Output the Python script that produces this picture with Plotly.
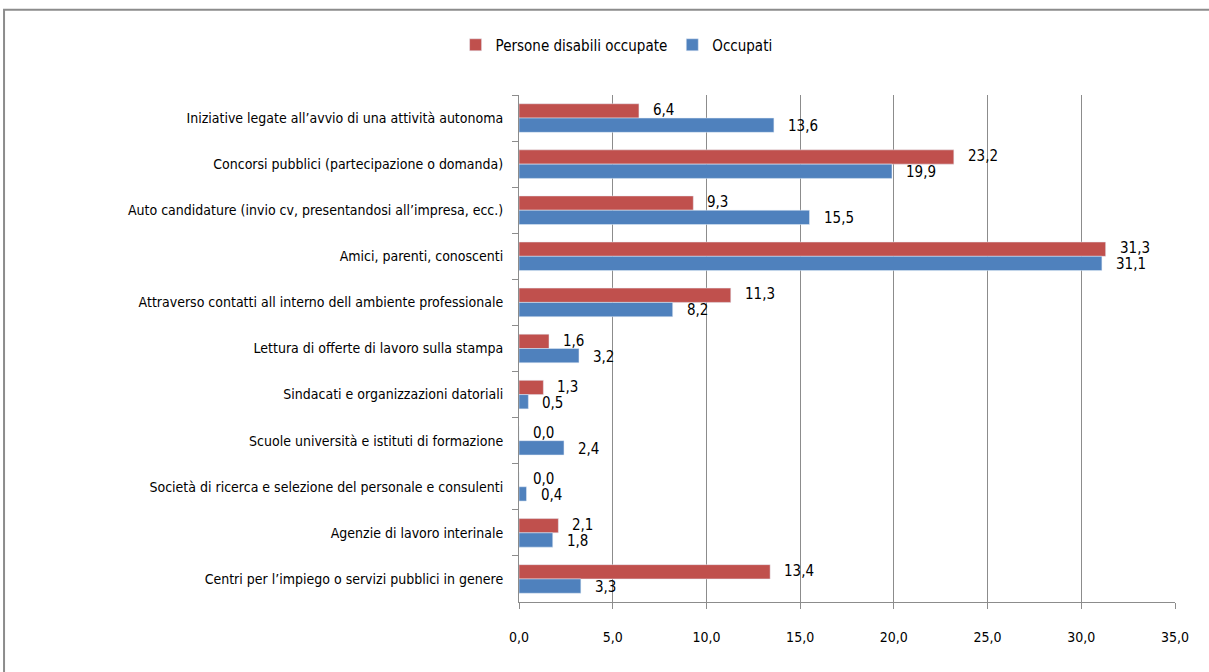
import plotly.graph_objects as go

categories = [
    "Iniziative legate all’avvio di una attività autonoma",
    "Concorsi pubblici (partecipazione o domanda)",
    "Auto candidature (invio cv, presentandosi all’impresa, ecc.)",
    "Amici, parenti, conoscenti",
    "Attraverso contatti all interno dell ambiente professionale",
    "Lettura di offerte di lavoro sulla stampa",
    "Sindacati e organizzazioni datoriali",
    "Scuole università e istituti di formazione",
    "Società di ricerca e selezione del personale e consulenti",
    "Agenzie di lavoro interinale",
    "Centri per l’impiego o servizi pubblici in genere",
]
disabili = [6.4, 23.2, 9.3, 31.3, 11.3, 1.6, 1.3, 0.0, 0.0, 2.1, 13.4]
occupati = [13.6, 19.9, 15.5, 31.1, 8.2, 3.2, 0.5, 2.4, 0.4, 1.8, 3.3]
x_ticks = [0, 5, 10, 15, 20, 25, 30, 35]

FONT = "DejaVu Sans Condensed, Liberation Sans Narrow, sans-serif"
RED = "#C0504D"
BLUE = "#4F81BD"

def fmt(v):
    return f"{v:.1f}".replace(".", ",")

fig = go.Figure()
fig.add_trace(go.Bar(
    y=categories, x=disabili, orientation="h", name="Persone disabili occupate",
    marker=dict(color=RED),
))
fig.add_trace(go.Bar(
    y=categories, x=occupati, orientation="h", name="Occupati",
    marker=dict(color=BLUE),
))

# data labels, offset like the original (red row above, blue row below)
for cat, v in zip(categories, disabili):
    fig.add_annotation(x=v, y=cat, text=fmt(v), showarrow=False,
                       xanchor="left", yanchor="middle", xshift=12, yshift=8,
                       font=dict(size=15, color="#000000", family=FONT))
for cat, v in zip(categories, occupati):
    fig.add_annotation(x=v, y=cat, text=fmt(v), showarrow=False,
                       xanchor="left", yanchor="middle", xshift=12, yshift=-8,
                       font=dict(size=15, color="#000000", family=FONT))

# frame around chart (paper coords computed from margins)
fig.add_shape(type="rect", xref="paper", yref="paper",
              x0=-0.785, x1=1.08, y0=-0.17, y1=1.168,
              line=dict(color="#8C8C8C", width=2), fillcolor="rgba(0,0,0,0)")

fig.update_layout(
    width=1209, height=672,
    margin=dict(l=519, r=34, t=95, b=70),
    paper_bgcolor="white", plot_bgcolor="white",
    barmode="group", bargap=0.38, bargroupgap=0.0,
    separators=",.",
    font=dict(family=FONT, size=14, color="#000000"),
    showlegend=True,
    legend=dict(orientation="h", xref="container", yref="container",
                x=0.51, y=0.933, xanchor="center", yanchor="middle",
                font=dict(size=15, family=FONT), traceorder="normal",
                itemwidth=30),
    xaxis=dict(range=[0, 35], tickvals=x_ticks, tickformat=".1f",
               showgrid=True, gridcolor="#8C8C8C", gridwidth=1,
               showline=True, linecolor="#8C8C8C", linewidth=1,
               ticks="outside", ticklen=6, tickcolor="#8C8C8C",
               ticklabelstandoff=16, zeroline=False,
               tickfont=dict(size=14, family=FONT)),
    yaxis=dict(autorange="reversed", type="category",
               showline=True, linecolor="#8C8C8C", linewidth=1,
               ticks="outside", ticklen=6, tickcolor="#8C8C8C",
               tickson="boundaries", ticklabelstandoff=12,
               showgrid=False,
               tickfont=dict(size=14, family=FONT)),
)

fig.write_html("out.html", config={"displayModeBar": False},
               post_script="document.body.style.margin='0';")
